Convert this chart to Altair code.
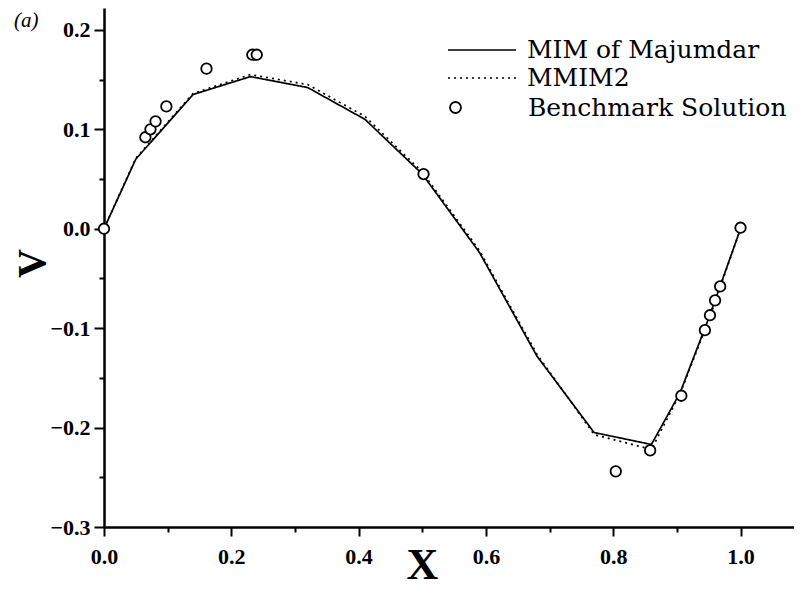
import altair as alt
import pandas as pd

# ---- data ----
x_mim = [0.0, 0.05, 0.14, 0.23, 0.32, 0.41, 0.50, 0.59, 0.68, 0.77, 0.86, 0.905, 0.95, 1.0]
v_mim = [0.0, 0.070, 0.135, 0.153, 0.142, 0.110, 0.055, -0.024, -0.128, -0.205, -0.217, -0.165, -0.090, 0.0]

x_mmim2 = [0.0, 0.05, 0.14, 0.23, 0.32, 0.41, 0.50, 0.59, 0.68, 0.77, 0.86, 0.905, 0.95, 1.0]
v_mmim2 = [0.0, 0.071, 0.136, 0.155, 0.145, 0.113, 0.057, -0.022, -0.126, -0.207, -0.222, -0.166, -0.092, 0.0]

x_bench = [0.0, 0.065, 0.073, 0.081, 0.098, 0.161, 0.233, 0.240, 0.502, 0.804, 0.858,
           0.907, 0.944, 0.952, 0.960, 0.968, 1.0]
v_bench = [0.0, 0.092, 0.100, 0.108, 0.123, 0.161, 0.175, 0.175, 0.055, -0.244, -0.223,
           -0.168, -0.102, -0.087, -0.072, -0.058, 0.001]

series_lines = ["MIM of Majumdar", "MMIM2"]
series_bench = "Benchmark Solution"

x_major = [0.0, 0.2, 0.4, 0.6, 0.8, 1.0]
x_minor = [0.1, 0.3, 0.5, 0.7, 0.9]
y_major = [-0.3, -0.2, -0.1, 0.0, 0.1, 0.2]
y_minor = [-0.25, -0.15, -0.05, 0.05, 0.15]

lines_df = pd.DataFrame(
    {"x": x_mim + x_mmim2,
     "v": v_mim + v_mmim2,
     "series": [series_lines[0]] * len(x_mim) + [series_lines[1]] * len(x_mmim2)}
)
bench_df = pd.DataFrame({"x": x_bench, "v": v_bench, "series": [series_bench] * len(x_bench)})

xscale = alt.Scale(domain=[0, 1.084], nice=False, zero=False)
yscale = alt.Scale(domain=[-0.3, 0.222], nice=False, zero=False)

LABEL_FONT = "Liberation Serif"
LEG_FONT = "DejaVu Serif"

x_axis_major = alt.Axis(
    values=x_major, format=".1f", orient="bottom", tickSize=9, labelPadding=10,
    labelFont=LABEL_FONT, labelFontWeight="bold", labelFontSize=22, labelFlush=False,
    labelOverlap=False, title="X", titleFont=LABEL_FONT, titleFontWeight="bold",
    titleFontSize=44, titleX=318, titleY=51, titleBaseline="alphabetic", titleAlign="center",
)
y_axis_major = alt.Axis(
    values=y_major, format=".1f", orient="left", tickSize=10, labelPadding=4,
    labelFont=LABEL_FONT, labelFontWeight="bold", labelFontSize=22, labelFlush=False,
    labelOverlap=False, title="V", titleFont=LABEL_FONT, titleFontWeight="bold",
    titleFontSize=40, titleAngle=270, titleX=-60, titleY=255, titleBaseline="alphabetic",
    titleAlign="center",
)
x_axis_minor = alt.Axis(values=x_minor, orient="bottom", tickSize=5, labels=False,
                        domain=False, title=None)
y_axis_minor = alt.Axis(values=y_minor, orient="left", tickSize=5, labels=False,
                        domain=False, title=None)

lines = alt.Chart(lines_df).mark_line(color="black", strokeWidth=1.7).encode(
    x=alt.X("x:Q", scale=xscale, axis=x_axis_major),
    y=alt.Y("v:Q", scale=yscale, axis=y_axis_major),
    strokeDash=alt.StrokeDash(
        "series:N",
        scale=alt.Scale(domain=series_lines, range=[[1, 0], [2, 4]]),
        legend=alt.Legend(
            title=None, orient="none", legendX=343, legendY=28, direction="vertical",
            symbolType="stroke", symbolSize=4624, symbolStrokeWidth=1.6,
            symbolStrokeColor="black", labelFont=LEG_FONT, labelFontSize=25,
            labelColor="black", labelOffset=10, clipHeight=28, rowPadding=0, padding=0,
            labelLimit=400,
        ),
    ),
)

points = alt.Chart(bench_df).mark_point(
    shape="circle", filled=False, color="black", fill="white", stroke="black",
    strokeWidth=1.8, size=110, opacity=1,
).encode(
    x=alt.X("x:Q", scale=xscale, axis=x_axis_minor),
    y=alt.Y("v:Q", scale=yscale, axis=y_axis_minor),
    shape=alt.Shape(
        "series:N",
        scale=alt.Scale(domain=[series_bench], range=["circle"]),
        legend=alt.Legend(
            title=None, orient="none", legendX=339, legendY=87, direction="vertical",
            symbolSize=120, symbolStrokeWidth=1.8, labelFont=LEG_FONT, labelFontSize=25,
            labelColor="black", labelOffset=60, padding=0, labelLimit=400,
        ),
    ),
)

chart = (
    alt.layer(lines, points)
    .resolve_axis(x="independent", y="independent")
    .properties(
        width=690,
        height=519,
        autosize=alt.AutoSizeParams(type="none"),
        padding={"left": 96, "top": 0, "right": 0, "bottom": 61},
        title=alt.TitleParams(
            text="(a)", anchor="start", orient="top", frame="group", offset=0, dx=-90,
            dy=23, baseline="top", font=LABEL_FONT, fontStyle="italic", fontWeight="normal",
            fontSize=21, color="black",
        ),
    )
    .configure_view(stroke=None)
    .configure_axis(
        grid=False, domainColor="black", domainWidth=2.5, tickColor="black",
        tickWidth=2, labelColor="black", titleColor="black",
    )
)

chart.save("out.html", embed_options={"renderer": "svg", "actions": False})
